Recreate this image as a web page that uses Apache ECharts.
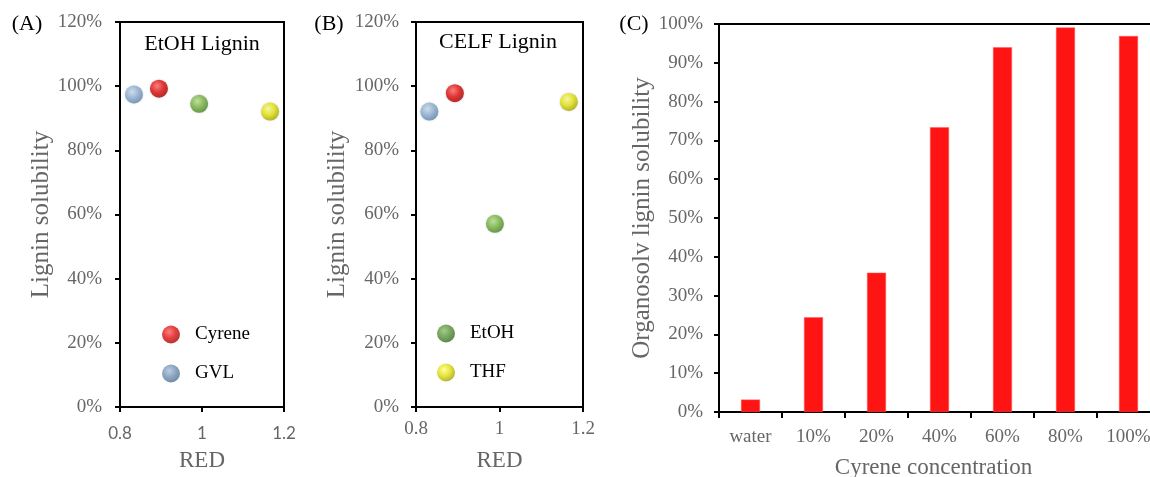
<!DOCTYPE html>
<html>
<head>
<meta charset="utf-8">
<title>Lignin solubility</title>
<script src="https://cdn.jsdelivr.net/npm/echarts@6/dist/echarts.min.js"></script>
<style>
    html, body { margin: 0; padding: 0; background: #fff; }
    #chart { width: 1150px; height: 477px; }
</style>
</head>
<body>
<div id="chart"></div>
<script>
// (A)(B) 溶剂散点: RED 与溶解度
const solvents = ["Cyrene", "GVL", "EtOH", "THF"];
const redEtOH = [0.895, 0.834, 0.993, 1.166];
const solEtOH = [99.2, 97.4, 94.5, 92.1];
const redCELF = [0.893, 0.832, 0.989, 1.166];
const solCELF = [97.8, 92.1, 57.1, 95.1];

// (C) Cyrene 浓度柱状
const concentrations = ["water", "10%", "20%", "40%", "60%", "80%", "100%"];
const solCyrene = [3.2, 24.4, 35.9, 73.4, 94.0, 99.1, 96.9];

const SERIF = "'Liberation Serif', 'Times New Roman', serif";
const GRAY = "#666";

// 球形渐变
function ball(light, base, dark) {
    return {
        type: "radial", x: 0.4, y: 0.35, r: 0.7,
        colorStops: [
            { offset: 0, color: light },
            { offset: 0.5, color: base },
            { offset: 1, color: dark },
        ],
    };
}
const ballColor = {
    Cyrene: ball("#ff7070", "#e81010", "#a00000"),
    GVL: ball("#cfe0f1", "#8fb2d6", "#5d82a8"),
    EtOH: ball("#bde492", "#79b646", "#4a8224"),
    THF: ball("#ffff9a", "#e8e810", "#a3a300"),
};
// legend 里的图标颜色稍暗
const legendColor = {
    Cyrene: ball("#ff6060", "#e01010", "#9a0000"),
    GVL: ball("#a9c0d6", "#7192b3", "#4a6a8a"),
    EtOH: ball("#8cc066", "#579137", "#35641c"),
    THF: ball("#ffff80", "#dede10", "#9a9a00"),
};

const axisLine = { show: true, onZero: false, lineStyle: { color: "#000", width: 2 } };
const axisTick = { show: true, length: 5, lineStyle: { color: "#000", width: 2 } };
const yLabel = { color: GRAY, fontFamily: SERIF, fontSize: 19, formatter: "{value}%" };

function redAxis(idx, labelFont, margin) {
    return {
        gridIndex: idx,
        type: "value",
        min: 0.8,
        max: 1.2,
        interval: 0.2,
        name: "RED",
        nameLocation: "middle",
        nameGap: 42,
        nameTextStyle: { color: GRAY, fontFamily: SERIF, fontSize: 23 },
        axisLine: axisLine,
        axisTick: axisTick,
        splitLine: { show: false },
        axisLabel: { color: GRAY, fontFamily: labelFont.family, fontSize: labelFont.size, margin: margin },
    };
}
function solAxis(idx, gap, margin) {
    return {
        gridIndex: idx,
        type: "value",
        min: 0,
        max: 120,
        interval: 20,
        name: "Lignin solubility",
        nameLocation: "middle",
        nameGap: gap,
        nameTextStyle: { color: GRAY, fontFamily: SERIF, fontSize: 25 },
        axisLine: axisLine,
        axisTick: axisTick,
        splitLine: { show: false },
        axisLabel: Object.assign({}, yLabel, { margin: margin }),
    };
}

const series = [];
solvents.forEach((name, i) => {
    const common = {
        name: name,
        type: "scatter",
        symbol: "circle",
        symbolSize: 18,
        itemStyle: { color: ballColor[name], shadowBlur: 2, shadowColor: "rgba(0,0,0,0.25)" },
    };
    series.push(Object.assign({}, common, { xAxisIndex: 0, yAxisIndex: 0, data: [[redEtOH[i], solEtOH[i]]] }));
    series.push(Object.assign({}, common, { xAxisIndex: 1, yAxisIndex: 1, data: [[redCELF[i], solCELF[i]]] }));
});
series.push({
    name: "Cyrene concentration",
    type: "bar",
    xAxisIndex: 2,
    yAxisIndex: 2,
    barWidth: 19,
    itemStyle: { color: "#ff1414", borderColor: "#ff5a5a", borderWidth: 0.5 },
    data: solCyrene,
});

const legendText = { color: "#000", fontFamily: SERIF, fontSize: 19 };
const gridBase = { show: true, borderColor: "#000", borderWidth: 2, containLabel: false, outerBoundsMode: "none" };
const option = {
    backgroundColor: "#fff",
    animation: false,
    grid: [
        Object.assign({ left: 120, top: 22, width: 164, height: 385 }, gridBase),
        Object.assign({ left: 416, top: 22, width: 167, height: 385 }, gridBase),
        Object.assign({ left: 719, top: 24, width: 441, height: 388 }, gridBase),
    ],
    xAxis: [
        redAxis(0, { family: "Lato, 'Noto Sans', sans-serif", size: 17 }, 18),
        redAxis(1, { family: SERIF, size: 19 }, 13),
        {
            gridIndex: 2,
            type: "category",
            data: concentrations,
            name: "Cyrene concentration",
            nameLocation: "middle",
            nameGap: 44,
            nameTextStyle: { color: GRAY, fontFamily: SERIF, fontSize: 23, padding: [0, 12, 0, 0] },
            axisLine: axisLine,
            axisTick: Object.assign({}, axisTick, { interval: 0, length: 6 }),
            axisLabel: { color: GRAY, fontFamily: SERIF, fontSize: 19, interval: 0, margin: 16 },
        },
    ],
    yAxis: [
        solAxis(0, 64, 18),
        solAxis(1, 66, 17),
        {
            gridIndex: 2,
            type: "value",
            min: 0,
            max: 100,
            interval: 10,
            name: "Organosolv lignin solubility",
            nameLocation: "middle",
            nameGap: 63,
            nameTextStyle: { color: GRAY, fontFamily: SERIF, fontSize: 25 },
            axisLine: axisLine,
            axisTick: axisTick,
            splitLine: { show: false },
            axisLabel: Object.assign({}, yLabel, { margin: 16 }),
        },
    ],
    legend: [
        {
            orient: "vertical",
            left: 162,
            top: 325,
            padding: 0,
            itemWidth: 38,
            itemHeight: 18,
            itemGap: 20,
            selectedMode: false,
            textStyle: legendText,
            data: [
                { name: "Cyrene", itemStyle: { color: legendColor.Cyrene } },
                { name: "GVL", itemStyle: { color: legendColor.GVL } },
            ],
        },
        {
            orient: "vertical",
            left: 437,
            top: 324,
            padding: 0,
            itemWidth: 38,
            itemHeight: 18,
            itemGap: 20,
            selectedMode: false,
            textStyle: legendText,
            data: [
                { name: "EtOH", itemStyle: { color: legendColor.EtOH } },
                { name: "THF", itemStyle: { color: legendColor.THF } },
            ],
        },
    ],
    graphic: [
        { type: "text", x: 27, y: 24, style: { text: "(A)", font: "22px " + SERIF, fill: "#000", align: "center", verticalAlign: "middle" } },
        { type: "text", x: 329, y: 24, style: { text: "(B)", font: "22px " + SERIF, fill: "#000", align: "center", verticalAlign: "middle" } },
        { type: "text", x: 634, y: 24, style: { text: "(C)", font: "22px " + SERIF, fill: "#000", align: "center", verticalAlign: "middle" } },
        { type: "text", x: 202, y: 44, style: { text: "EtOH Lignin", font: "22px " + SERIF, fill: "#000", align: "center", verticalAlign: "middle" } },
        { type: "text", x: 498, y: 42, style: { text: "CELF Lignin", font: "22px " + SERIF, fill: "#000", align: "center", verticalAlign: "middle" } },
    ],
    series: series,
};

const chart = echarts.init(document.getElementById("chart"));
chart.setOption(option);
</script>
</body>
</html>
